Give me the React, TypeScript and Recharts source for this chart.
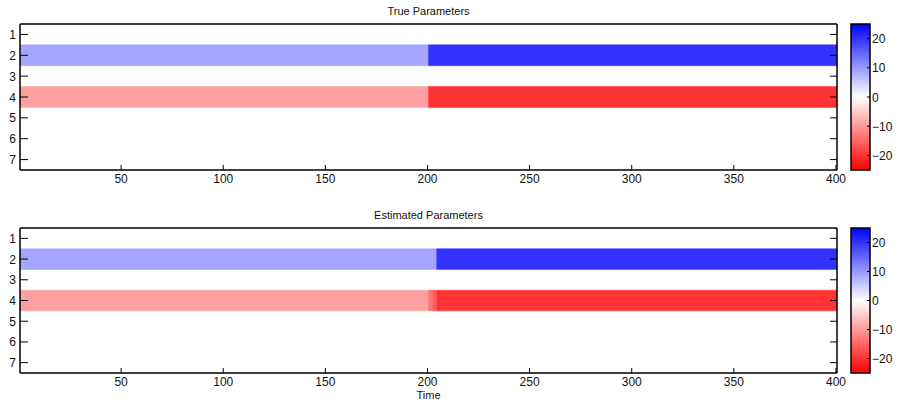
import React from 'react';
import { ComposedChart, XAxis, YAxis, ReferenceArea } from 'recharts';

const rows = [1, 2, 3, 4, 5, 6, 7];
const timeTicks = [50, 100, 150, 200, 250, 300, 350, 400];
const colorTicks = [-20, -10, 0, 10, 20];
const colorLimit = 25;

// segments: parameter row, first and last time step, value
const trueSegments = [
  { row: 2, start: 1, end: 200, value: 8.8 },
  { row: 2, start: 201, end: 400, value: 20 },
  { row: 4, start: 1, end: 200, value: -9.3 },
  { row: 4, start: 201, end: 400, value: -20 },
];

const estSegments = [
  { row: 2, start: 1, end: 204, value: 8.8 },
  { row: 2, start: 205, end: 400, value: 20 },
  { row: 4, start: 1, end: 200, value: -9.3 },
  { row: 4, start: 201, end: 202, value: -13.5 },
  { row: 4, start: 203, end: 204, value: -16 },
  { row: 4, start: 205, end: 400, value: -20 },
];

type Segment = { row: number; start: number; end: number; value: number };

const FONT = '"Liberation Sans", Arial, sans-serif';

function valueColor(v: number) {
  const f = Math.min(1, Math.abs(v) / colorLimit);
  const c = Math.round(255 * (1 - f));
  return v >= 0 ? `rgb(${c},${c},255)` : `rgb(255,${c},${c})`;
}

const LeftTick = (p: any) => (
  <g>
    <line x1={p.x} x2={p.x + 8} y1={p.y} y2={p.y} stroke="#000" />
    <text x={p.x - 4} y={p.y} dy={4.5} textAnchor="end" fontSize={12} fontFamily={FONT} fill="#111">
      {p.payload.value}
    </text>
  </g>
);
const RightTick = (p: any) => <line x1={p.x} x2={p.x - 7} y1={p.y} y2={p.y} stroke="#000" />;
const TopTick = (p: any) => <line x1={p.x} x2={p.x} y1={p.y} y2={p.y + 7} stroke="#000" />;
const BottomTick = (p: any) => (
  <g>
    <line x1={p.x} x2={p.x} y1={p.y} y2={p.y - 5} stroke="#000" />
    <text x={p.x} y={p.y} dy={12.5} textAnchor="middle" fontSize={12} fontFamily={FONT} fill="#111">
      {p.payload.value}
    </text>
  </g>
);
const CbTick = (p: any) => {
  const v = p.payload.value;
  return (
    <g>
      <line x1={p.x} x2={p.x - 3} y1={p.y} y2={p.y} stroke="#000" />
      <text x={p.x + 2} y={p.y} dy={4.5} textAnchor="start" fontSize={12} fontFamily={FONT} fill="#111">
        {v < 0 ? '\u2212' + Math.abs(v) : v}
      </text>
    </g>
  );
};

function Panel({ segments, top, bottom }: { segments: Segment[]; top: number; bottom: number }) {
  const axisLine = { stroke: '#000', strokeWidth: 1.5 };
  return (
    <ComposedChart width={897} height={200} data={[{ t: 1 }, { t: 400 }]}
      margin={{ top: top - 1, bottom: 0, left: 0, right: 59 }}>
      <XAxis dataKey="t" type="number" domain={[0.5, 400.5]} allowDataOverflow ticks={timeTicks} interval={0}
        height={bottom} tickSize={0} tickMargin={0} tickLine={false} axisLine={axisLine} tick={<BottomTick />} />
      <XAxis xAxisId="top" orientation="top" type="number" domain={[0.5, 400.5]} allowDataOverflow ticks={timeTicks}
        interval={0} height={1} tickSize={0} tickMargin={0} tickLine={false} axisLine={axisLine} tick={<TopTick />} />
      <YAxis type="number" domain={[0.5, 7.5]} reversed allowDataOverflow ticks={rows} interval={0} width={20}
        tickSize={0} tickMargin={0} tickLine={false} axisLine={axisLine} tick={<LeftTick />} />
      <YAxis yAxisId="right" orientation="right" type="number" domain={[0.5, 7.5]} reversed allowDataOverflow
        ticks={rows} interval={0} width={1} tickSize={0} tickMargin={0} tickLine={false} axisLine={axisLine}
        tick={<RightTick />} />
      {segments.map((s, i) => (
        <ReferenceArea key={i} x1={s.start - 0.5} x2={s.end + 0.5} y1={s.row - 0.5} y2={s.row + 0.5}
          fill={valueColor(s.value)} fillOpacity={1} stroke={valueColor(s.value)} strokeWidth={0.5}
          ifOverflow="visible" />
      ))}
    </ComposedChart>
  );
}

function ColorBar({ top, bottom, id }: { top: number; bottom: number; id: string }) {
  return (
    <ComposedChart width={57} height={200} data={[{ x: 0 }, { x: 1 }]} margin={{ top, bottom, left: 11, right: 0 }}>
      <defs>
        <linearGradient id={id} x1="0" y1="0" x2="0" y2="1">
          <stop offset="0%" stopColor="#0000ff" />
          <stop offset="50%" stopColor="#ffffff" />
          <stop offset="100%" stopColor="#ff0000" />
        </linearGradient>
      </defs>
      <XAxis dataKey="x" type="number" domain={[0, 1]} hide />
      <YAxis orientation="right" type="number" domain={[-colorLimit, colorLimit]} allowDataOverflow ticks={colorTicks}
        interval={0} width={27} tickSize={0} tickMargin={0} tickLine={false} axisLine={false} tick={<CbTick />} />
      <ReferenceArea x1={0} x2={1} y1={-colorLimit} y2={colorLimit} fill={`url(#${id})`} fillOpacity={1}
        stroke="#000" strokeWidth={1.5} ifOverflow="visible" />
    </ComposedChart>
  );
}

const titleStyle: React.CSSProperties = {
  position: 'absolute', left: 20, width: 817, textAlign: 'center', fontFamily: FONT, fontSize: 11,
  lineHeight: '11px', color: '#111',
};

export default function App() {
  return (
    <div style={{ position: 'absolute', left: 0, top: 0, width: 897, height: 401, background: '#fff', overflow: 'hidden' }}>
      <div style={{ ...titleStyle, top: 6 }}>True Parameters</div>
      <div style={{ position: 'absolute', left: 0, top: 0 }}>
        <Panel segments={trueSegments} top={24} bottom={30} />
      </div>
      <div style={{ position: 'absolute', left: 840, top: 0 }}>
        <ColorBar top={24} bottom={30} id="cb1" />
      </div>
      <div style={{ ...titleStyle, top: 210 }}>Estimated Parameters</div>
      <div style={{ position: 'absolute', left: 0, top: 200 }}>
        <Panel segments={estSegments} top={28} bottom={27} />
      </div>
      <div style={{ position: 'absolute', left: 840, top: 200 }}>
        <ColorBar top={28} bottom={27} id="cb2" />
      </div>
      <div style={{ ...titleStyle, top: 390 }}>Time</div>
    </div>
  );
}
